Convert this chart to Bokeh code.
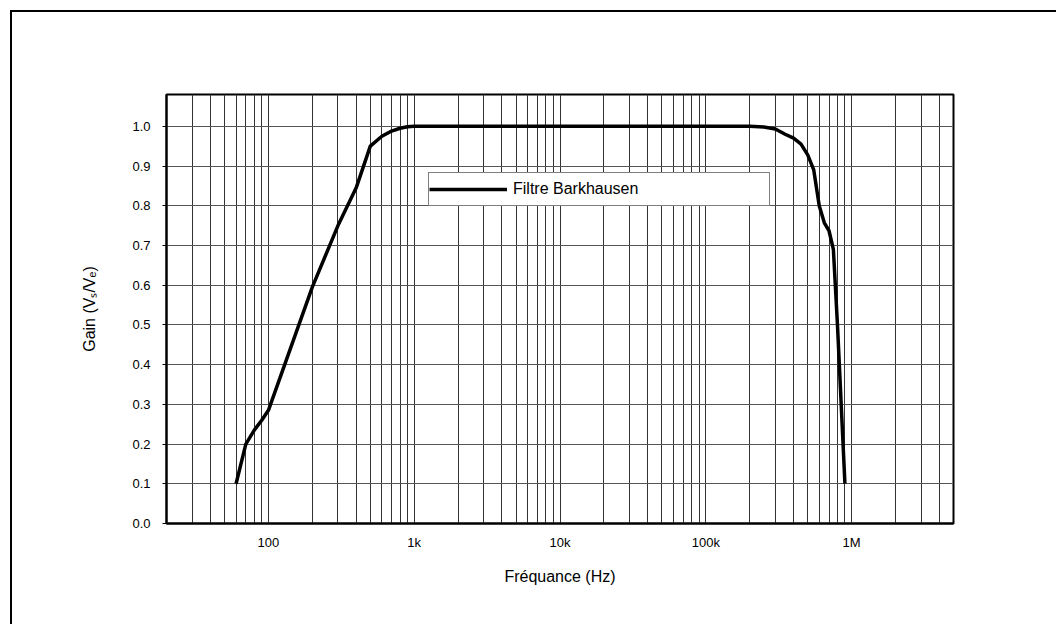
from bokeh.plotting import figure
from bokeh.models import Range1d, FixedTicker, Legend, LegendItem, NumeralTickFormatter
from bokeh.embed import file_html
from bokeh.resources import INLINE

# ---- data ----
freq_hz = [60, 70, 80, 90, 100, 200, 300, 400, 500, 600, 700, 800, 900,
           1000, 2000, 5000, 10000, 20000, 50000, 100000, 200000, 250000,
           300000, 350000, 400000, 450000, 500000, 550000, 600000, 650000,
           700000, 750000, 800000, 900000]
gain = [0.10, 0.20, 0.235, 0.26, 0.285, 0.595, 0.75, 0.845, 0.95, 0.975, 0.988, 0.995, 0.999,
        1.0, 1.0, 1.0, 1.0, 1.0, 1.0, 1.0, 1.0, 0.998,
        0.993, 0.98, 0.97, 0.955, 0.928, 0.89, 0.80, 0.757,
        0.737, 0.69, 0.50, 0.10]

series_name = "Filtre Barkhausen"
y_ticks = [0.0, 0.1, 0.2, 0.3, 0.4, 0.5, 0.6, 0.7, 0.8, 0.9, 1.0]
x_major = [100, 1000, 10000, 100000, 1000000]
x_labels = ["100", "1k", "10k", "100k", "1M"]
x_minor = [m * d for d in [10, 100, 1000, 10000, 100000, 1000000] for m in range(2, 10)
           if 20 <= m * d <= 5000000]

FONT = "Liberation Sans"

p = figure(x_axis_type="log", x_range=Range1d(20, 5e6), y_range=Range1d(0, 1.08),
           frame_width=787, frame_height=429,
           min_border_left=154, min_border_top=82, min_border_right=103, min_border_bottom=101,
           output_backend="svg", toolbar_location=None,
           x_axis_label="Fréquance (Hz)", y_axis_label="Gain (Vₛ/Vₑ)")

p.margin = (10, 0, 0, 10)
p.styles = {"border-left": "2px solid black", "border-top": "2px solid black"}

r = p.line(freq_hz, gain, line_color="black", line_width=3.5, line_join="round")

tick = FixedTicker(ticks=x_major, minor_ticks=x_minor)
p.xaxis.ticker = tick
p.xgrid.ticker = tick
p.xaxis.major_label_overrides = {v: s for v, s in zip(x_major, x_labels)}
yt = FixedTicker(ticks=y_ticks)
p.yaxis.ticker = yt
p.ygrid.ticker = yt
p.yaxis.formatter = NumeralTickFormatter(format="0.0")

for ax in (p.xaxis[0], p.yaxis[0]):
    ax.axis_line_color = "black"
    ax.axis_line_width = 2
    ax.major_label_text_font = FONT
    ax.major_label_text_font_size = "13px"
    ax.major_label_text_color = "black"
    ax.axis_label_text_font = FONT
    ax.axis_label_text_font_size = "16px"
    ax.axis_label_text_font_style = "normal"
    ax.axis_label_text_color = "black"
    ax.minor_tick_out = 0
    ax.minor_tick_in = 0
    ax.major_tick_in = 0

p.xaxis.major_tick_out = 0
p.xaxis.major_label_standoff = 11
p.xaxis.axis_label_standoff = 15
p.yaxis.major_tick_out = 4
p.yaxis.major_tick_line_color = "black"
p.yaxis.major_label_standoff = 12
p.yaxis.axis_label_standoff = 31

p.xgrid.grid_line_color = "#333333"
p.xgrid.minor_grid_line_color = "#333333"
p.xgrid.grid_line_width = 1
p.ygrid.grid_line_color = "#555555"
p.ygrid.grid_line_width = 1

p.outline_line_color = "black"
p.outline_line_width = 2
p.background_fill_color = "white"
p.border_fill_color = "white"

legend = Legend(items=[LegendItem(label=series_name, renderers=[r])],
                location=(262, 317), padding=0, spacing=0, margin=0,
                glyph_width=78, glyph_height=32, label_height=32, label_width=256,
                label_standoff=6, border_line_color="black", border_line_width=1,
                background_fill_color="white", background_fill_alpha=1,
                label_text_font=FONT, label_text_font_size="16px", label_text_color="black")
p.add_layout(legend)

open("out.html", "w").write(file_html(p, INLINE))
